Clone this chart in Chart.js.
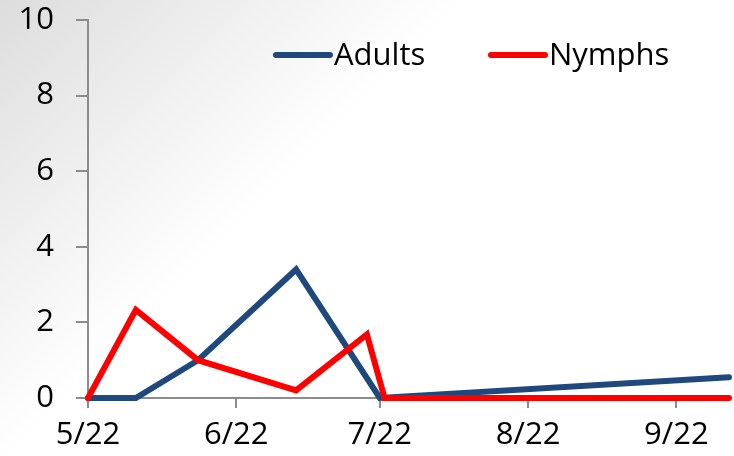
<!DOCTYPE html>
<html>
<head>
<meta charset="utf-8">
<script src="https://cdn.jsdelivr.net/npm/chart.js@4.4.1/dist/chart.umd.min.js"></script>
<style>
  html, body { margin: 0; padding: 0; background: #fff; }
  #wrap { width: 734px; height: 456px; }
</style>
</head>
<body>
<div id="wrap"><canvas id="chart"></canvas></div>
<script>
// days counted from 5/22
const tickDays = [0, 31, 61, 92, 123];
const tickLabels = ['5/22', '6/22', '7/22', '8/22', '9/22'];

const adultDays = [0, 10, 23, 43.5, 61, 134];
const adultValues = [0, 0, 1.0, 3.4, 0, 0.55];

const nymphDays = [0, 10, 23, 43.5, 58.3, 62, 134];
const nymphValues = [0, 2.33, 1.0, 0.2, 1.68, 0, 0];

const seriesNames = ['Adults', 'Nymphs'];
const seriesColors = ['#1F497D', '#FF0000'];

const FONT = 'Open Sans';

const toPoints = (xs, ys) => xs.map((x, i) => ({ x: x, y: ys[i] }));

// gray-to-white background from the top left corner
const backgroundPlugin = {
  id: 'bg',
  beforeDraw(chart) {
    const ctx = chart.ctx;
    const g = ctx.createLinearGradient(0, 0, 230, 230);
    g.addColorStop(0, '#dddddd');
    g.addColorStop(1, '#ffffff');
    ctx.save();
    ctx.fillStyle = g;
    ctx.fillRect(0, 0, chart.width, chart.height);
    ctx.restore();
  }
};

// legend drawn inside the plot area, like the original
const legendPlugin = {
  id: 'innerLegend',
  afterDraw(chart) {
    const ctx = chart.ctx;
    const starts = [276, 491];
    const y = 55;
    ctx.save();
    ctx.font = '31px "' + FONT + '"';
    ctx.textBaseline = 'middle';
    ctx.lineCap = 'round';
    ctx.lineWidth = 6;
    chart.data.datasets.forEach((ds, i) => {
      ctx.strokeStyle = ds.borderColor;
      ctx.beginPath();
      ctx.moveTo(starts[i], y);
      ctx.lineTo(starts[i] + 54, y);
      ctx.stroke();
      ctx.fillStyle = '#000';
      ctx.fillText(ds.label, starts[i] + 58, y + 1);
    });
    ctx.restore();
  }
};

// red series sits on top of the blue one
const datasets = [
  { label: seriesNames[0], data: toPoints(adultDays, adultValues), borderColor: seriesColors[0], order: 1 },
  { label: seriesNames[1], data: toPoints(nymphDays, nymphValues), borderColor: seriesColors[1], order: 0 }
].map(d => Object.assign(d, {
  borderWidth: 6,
  pointRadius: 0,
  tension: 0,
  fill: false,
  clip: false,
  borderCapStyle: 'round',
  borderJoinStyle: 'miter'
}));

new Chart(document.getElementById('chart'), {
  type: 'line',
  data: { datasets },
  plugins: [backgroundPlugin, legendPlugin],
  options: {
    responsive: true,
    maintainAspectRatio: false,
    animation: false,
    layout: { padding: { top: 20, right: 5, left: 2, bottom: 0 } },
    plugins: {
      legend: { display: false },
      tooltip: { enabled: false }
    },
    scales: {
      x: {
        type: 'linear',
        min: 0,
        max: 134,
        afterBuildTicks(axis) {
          axis.ticks = tickDays.map(v => ({ value: v }));
        },
        afterFit(scale) {
          scale.height = 58;
        },
        ticks: {
          autoSkip: false,
          maxRotation: 0,
          padding: 9,
          color: '#000',
          font: { family: FONT, size: 31 },
          callback: (v) => tickLabels[tickDays.indexOf(v)]
        },
        grid: { drawOnChartArea: false, drawTicks: true, tickLength: 10, color: '#8c8c8c', lineWidth: 2 },
        border: { display: true, color: '#8c8c8c', width: 2 }
      },
      y: {
        min: 0,
        max: 10,
        afterFit(scale) {
          scale.width = 86;
          scale.paddingTop = 0;
        },
        ticks: {
          stepSize: 2,
          padding: 22,
          color: '#000',
          font: { family: FONT, size: 31 }
        },
        grid: { drawOnChartArea: false, drawTicks: true, tickLength: 12, color: '#8c8c8c', lineWidth: 2 },
        border: { display: true, color: '#8c8c8c', width: 2 }
      }
    }
  }
});
</script>
</body>
</html>
